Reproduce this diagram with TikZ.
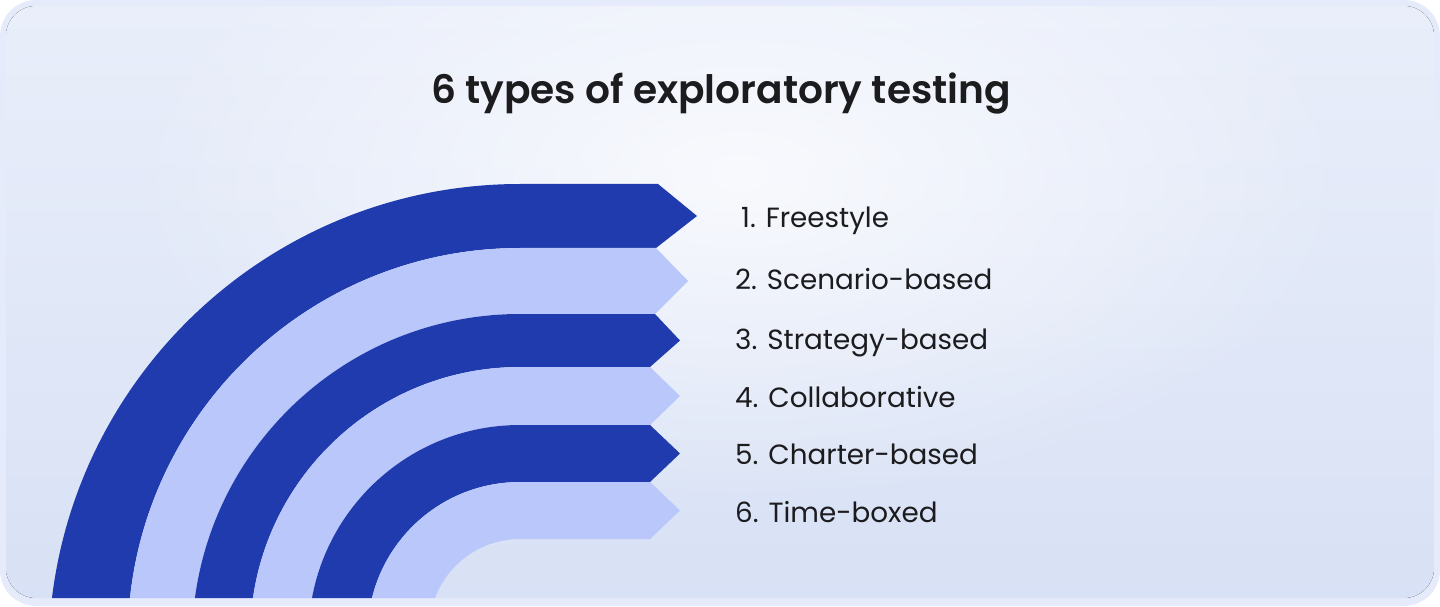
\documentclass[tikz,border=0pt]{standalone}
\usepackage{fontspec}
\setmainfont{Poppins}
\newfontfamily\titlefont{Poppins SemiBold}
\usetikzlibrary{fadings}
\tikzfading[name=softglow, inner color=transparent!0, outer color=transparent!100]
\definecolor{framec}{HTML}{E6EBFB}
\definecolor{bgtop}{HTML}{E9EEFA}
\definecolor{bgbot}{HTML}{D8E1F5}
\definecolor{darkband}{HTML}{1F3BAD}
\definecolor{lightband}{HTML}{B9C7FB}
\definecolor{txt}{HTML}{1C1C1F}
\tikzset{
  item/.style={anchor=base west, inner sep=0pt, text=txt, font=\fontsize{27.8}{32}\selectfont},
  titlestyle/.style={anchor=base, inner sep=0pt, text=txt, font=\fontsize{39.1}{44}\titlefont}
}
% band: colour, outer top Y, outer radius, inner top Y, inner radius, outer back x, inner back x, tip x
\newcommand\drawband[8]{%
  \pgfmathsetmacro\tipY{(#2+#4)/2}%
  \fill[#1] (#6,#2) -- (520,#2) arc[start angle=90, end angle=180, radius=#3]
     -- ++(0,-60) -- (520-#5,#4-#5-60) -- (520-#5,#4-#5)
     arc[start angle=180, end angle=90, radius=#5] -- (#7,#4) -- (#8,\tipY) -- cycle;}
\begin{document}
\begin{tikzpicture}[x=1pt,y=1pt]
\useasboundingbox (0,0) rectangle (1440,606);
\fill[framec, rounded corners=36pt] (0,0) rectangle (1440,606);
\begin{scope}
  \clip[rounded corners=30pt] (6,8) rectangle (1434,600);
  \fill[top color=bgtop, bottom color=bgbot] (6,8) rectangle (1434,600);
  \fill[white, path fading=softglow, fill opacity=0.75] (740,430) ellipse (620 and 330);
  \drawband{darkband}{422}{471.5}{358}{392.3}{658}{656}{697}
  \drawband{lightband}{358}{392.3}{292}{328}{656}{655}{688}
  \drawband{darkband}{292}{328}{239}{269.8}{655}{650}{680}
  \drawband{lightband}{239}{269.8}{181}{211.5}{650}{650}{680}
  \drawband{darkband}{181}{211.5}{124}{152.4}{650}{650}{680}
  \drawband{lightband}{124}{152.4}{67}{90.7}{650}{650}{680}
\end{scope}
\node[titlestyle] (title) at (721,502) {6 types of exploratory testing};
\node[item] (i1) at (741,378.5) {1. Freestyle};
\node[item] (i2) at (735,316.5) {2. Scenario-based};
\node[item] (i3) at (735,256.5) {3. Strategy-based};
\node[item] (i4) at (735,198.5) {4. Collaborative};
\node[item] (i5) at (735,141.5) {5. Charter-based};
\node[item] (i6) at (735,83.5) {6. Time-boxed};
\end{tikzpicture}
\end{document}
